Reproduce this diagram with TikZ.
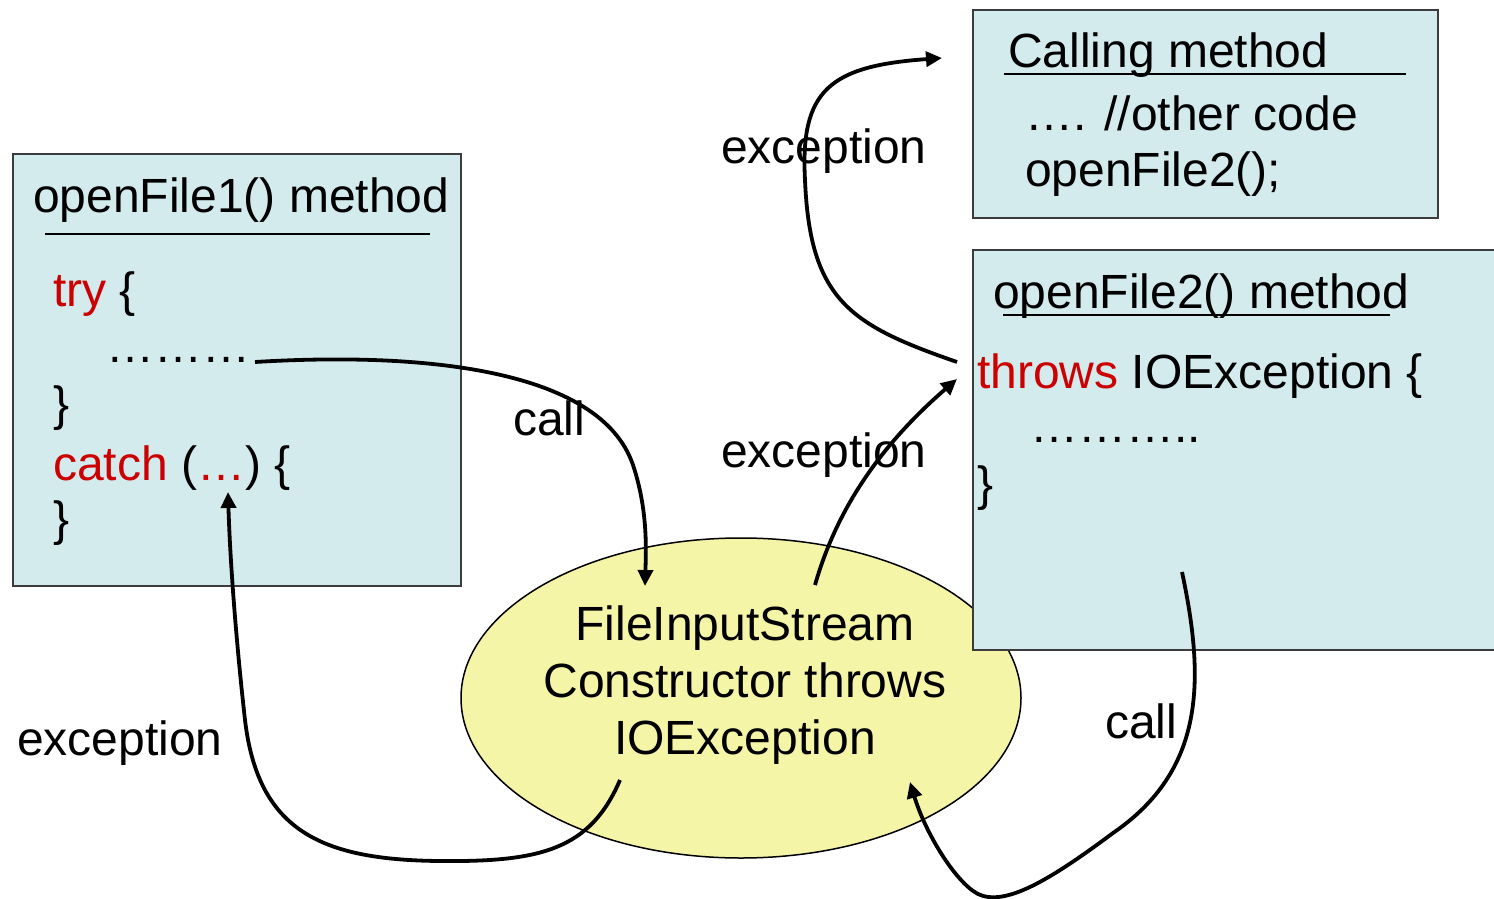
\documentclass[tikz,border=0pt]{standalone}
\usepackage{fontspec}
\setmainfont{Liberation Sans}
\usetikzlibrary{arrows.meta,shapes.geometric}
\definecolor{boxfill}{RGB}{212,235,238}
\definecolor{boxline}{RGB}{60,60,60}
\definecolor{ellfill}{RGB}{245,245,168}
\definecolor{kwred}{RGB}{204,0,0}
\tikzset{
  txt/.style={anchor=base west,inner sep=0pt,font=\fontsize{48}{57}\selectfont},
  methodbox/.style={draw=boxline,line width=2pt,fill=boxfill},
  rule/.style={line width=1.6pt},
  flow/.style={line width=3.8pt,-{Triangle[length=16pt,width=15pt]}},
}
\begin{document}
\begin{tikzpicture}[x=1pt,y=-1pt]
\useasboundingbox (0,0) rectangle (1494,899);
% the constructor ellipse sits beneath the openFile2 box
\node[draw,line width=1.5pt,fill=ellfill,ellipse,minimum width=560pt,minimum height=320pt,inner sep=0pt] (ctor) at (741,698) {};
\node[anchor=center,align=center,inner sep=0pt,font=\fontsize{48}{57}\selectfont] (ctortext) at (745,685)
  {FileInputStream\\Constructor throws\\IOException};

% openFile1() method
\draw[methodbox] (13,154) rectangle (461,586);
\node[txt] (t1title) at (33,212) {openFile1() method};
\draw[rule] (45,234) -- (430,234);
\node[txt] (t1try) at (53,306) {\textcolor{kwred}{try} \{};
\node[txt] (t1dots) at (106,362) {………};
\node[txt] (t1close) at (53,420) {\}};
\node[txt] (t1catch) at (53,480) {\textcolor{kwred}{catch} (\textcolor{kwred}{…}) \{};
\node[txt] (t1end) at (53,535) {\}};

% calling method
\draw[methodbox] (973,10) rectangle (1438,218);
\node[txt] (cmtitle) at (1008,68) {Calling method};
\draw[rule] (1004,74) -- (1406,74);
\node[txt] (cmother) at (1025,130) {…. //other code};
\node[txt] (cmcall) at (1025,186) {openFile2();};

% openFile2() method
\draw[methodbox] (973,250) rectangle (1510,650);
\node[txt] (t2title) at (993,308) {openFile2() method};
\draw[rule] (1003,315) -- (1390,315);
\node[txt] (t2throws) at (977,388) {\textcolor{kwred}{throws} IOException \{};
\node[txt] (t2dots) at (1030,442) {………..};
\node[txt] (t2close) at (977,500) {\}};

% connector end points
\coordinate (c1s) at (255,362);
\coordinate (c1e) at (645,586);
\coordinate (c2s) at (620,780);
\coordinate (c2e) at (228,492);
\coordinate (c3s) at (815,585);
\coordinate (c3e) at (957,379);
\coordinate (c4s) at (957,362);
\coordinate (c4e) at (942,58);
\coordinate (c5s) at (1182,572);
\coordinate (c5e) at (910,782);

\draw[flow] (c1s) .. controls (420,352) and (600,368) .. (633,465)
                  .. controls (648,510) and (646,550) .. (c1e);
\draw[flow] (c2s) .. controls (590,850) and (540,862) .. (440,861)
                  .. controls (320,860) and (258,830) .. (245,720)
                  .. controls (236,640) and (230,560) .. (c2e);
\draw[flow] (c3s) .. controls (835,515) and (875,450) .. (c3e);
\draw[flow] (c4s) .. controls (850,325) and (810,300) .. (805,180)
                  .. controls (800,90) and (830,66) .. (c4e);
\draw[flow] (c5s) .. controls (1205,680) and (1205,770) .. (1113,833)
                  .. controls (1050,880) and (1005,907) .. (978,894)
                  .. controls (955,882) and (925,832) .. (c5e);

% connector labels
\node[txt] (lcall1) at (513,435) {call};
\node[txt] (lexc1) at (17,755) {exception};
\node[txt] (lexc2) at (721,467) {exception};
\node[txt] (lexc3) at (721,163) {exception};
\node[txt] (lcall2) at (1105,738) {call};
\end{tikzpicture}
\end{document}
